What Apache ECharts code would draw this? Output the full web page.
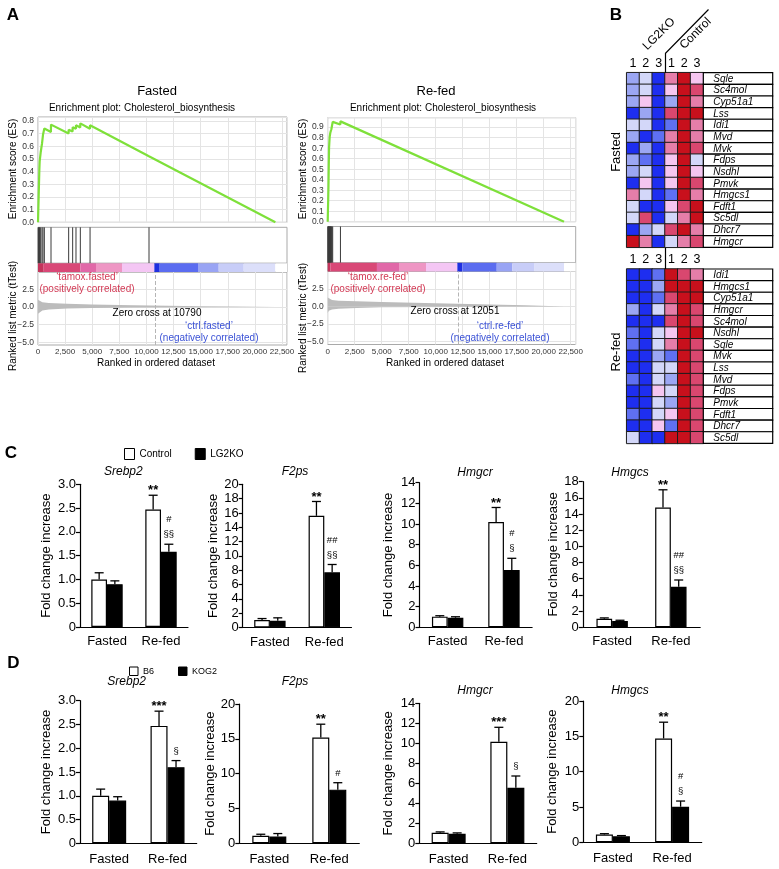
<!DOCTYPE html>
<html><head><meta charset="utf-8">
<script src="https://cdn.jsdelivr.net/npm/echarts@6/dist/echarts.min.js"></script>
<style>html,body{margin:0;padding:0;background:#fff}#c{width:779px;height:869px}</style>
</head><body><div id="c"></div>
<script>
// ================= DATA =================
// ---- Panel A (GSEA) ----
const nGenes = 22961;
const rankTickStep = 2500;
const metricTicks = [-5, -2.5, 0, 2.5];
const gseaSubtitle = 'Enrichment plot: Cholesterol_biosynthesis';

const fastedTitle = 'Fasted';
const fastedES = [[0,0],[20,0.07],[60,0.2],[123,0.41],[154,0.48],[246,0.55],[369,0.62],[461,0.69],[584,0.74],[1190,0.712],[1199,0.77],[2820,0.70],[2828,0.73],[3190,0.715],[3197,0.75],[3495,0.737],[3504,0.765],[3895,0.748],[3904,0.78],[4790,0.738],[4800,0.765],[10230,0.52],[10236,0.535],[21890,0]];
const fastedHits = [20,60,123,154,246,369,461,584,1199,2828,3197,3504,3904,4800,10236];
const fastedBarEdges = [0,523,3904,5349,7746,10728,11220,14755,16661,18967,21887,22961];
const fastedBarLevels = [5,4,3,2,1,-5,-4,-3,-2,-1,0];
const fastedMetricPos = [[0,1.05],[100,0.85],[400,0.7],[1000,0.6],[2700,0.47],[5000,0.38],[8800,0.28],[12000,0.18],[15000,0.12],[18000,0.08],[21900,0.04]];
const fastedMetricNeg = [[0,-0.95],[100,-0.7],[400,-0.5],[1000,-0.35],[2700,-0.2],[5000,-0.12],[8800,-0.05],[15000,-0.03],[21900,-0.03]];
const fastedZeroCross = 10790;
const fastedPosLabel = ['\u2018tamox.fasted\u2019', '(positively correlated)'];
const fastedNegLabel = ['\u2018ctrl.fasted\u2019', '(negatively correlated)'];

const refedTitle = 'Re-fed';
const refedES = [[0,0],[20,0.1],[45,0.2],[70,0.33],[93,0.49],[124,0.7],[155,0.76],[185,0.81],[216,0.83],[250,0.85],[280,0.86],[309,0.86],[340,0.88],[401,0.89],[463,0.95],[1170,0.925],[1180,0.955],[21880,0]];
const refedHits = [20,45,70,93,124,155,185,216,250,280,309,340,401,463,1180];
const refedBarEdges = [0,250,4560,6602,9103,12004,12467,15650,17099,19106,21884,22961];
const refedBarLevels = [5,4,3,2,1,-5,-4,-3,-2,-1,0];
const refedMetricPos = [[0,1.3],[100,1.1],[400,0.95],[1000,0.85],[2700,0.75],[5000,0.65],[8000,0.55],[12051,0.4],[15000,0.3],[18290,0.2],[18400,0.05],[21900,0.03]];
const refedMetricNeg = [[0,-0.9],[100,-0.6],[400,-0.4],[1000,-0.3],[2700,-0.2],[5000,-0.1],[12051,-0.05],[21900,-0.03]];
const refedZeroCross = 12051;
const refedPosLabel = ['\u2018tamox.re-fed\u2019', '(positively correlated)'];
const refedNegLabel = ['\u2018ctrl.re-fed\u2019', '(negatively correlated)'];

// ---- Panel B (heatmaps) ----
const sampleIds = ['LG2KO-1','LG2KO-2','LG2KO-3','Control-1','Control-2','Control-3'];
const fastedGenes = ['Sqle','Sc4mol','Cyp51a1','Lss','Idi1','Mvd','Mvk','Fdps','Nsdhl','Pmvk','Hmgcs1','Fdft1','Sc5dl','Dhcr7','Hmgcr'];
const fastedExpr = [
  [-2,-1,-4, 2, 4, 1],
  [-2,-1,-4, 1, 4, 3],
  [-2, 1,-4,-2, 4, 2],
  [-4,-2,-4, 3, 4, 4],
  [-1,-1,-4,-3, 4, 2],
  [-2,-4,-3, 2, 4, 2],
  [-4,-2,-4, 2, 4, 3],
  [-2,-3,-4, 1, 4,-1],
  [-2,-1,-4, 1, 4, 1],
  [-4, 1,-4, 1, 4, 3],
  [ 2,-1,-4,-3, 4, 2],
  [-1,-4,-4, 1, 3, 4],
  [-1, 3,-4,-1, 2, 4],
  [-4,-2,-1, 3, 4, 2],
  [ 4, 2,-4,-1, 2, 3]
];
const refedGenes = ['Idi1','Hmgcs1','Cyp51a1','Hmgcr','Sc4mol','Nsdhl','Sqle','Mvk','Lss','Mvd','Fdps','Pmvk','Fdft1','Dhcr7','Sc5dl'];
const refedExpr = [
  [-4,-4,-3, 4, 3, 2],
  [-4,-4,-2, 4, 4, 4],
  [-4,-4,-3, 3, 4, 4],
  [-2,-4,-1, 2, 4, 3],
  [-4,-4,-4, 3, 4, 3],
  [-3,-4,-1, 1, 4, 4],
  [-3,-4,-1, 2, 4, 3],
  [-4,-4,-2,-3, 4, 3],
  [-4,-4,-1,-1, 4, 3],
  [-3,-4,-1,-2, 4, 3],
  [-4,-4, 1,-1, 4, 3],
  [-4,-4,-1,-2, 4, 3],
  [-3,-4,-1, 1, 4, 3],
  [-4,-4, 1,-3, 4, 3],
  [-1,-4,-4, 4, 4, 3]
];

// ---- Panels C & D (bar charts) ----
const groups = ['Fasted', 'Re-fed'];
const cSeriesNames = ['Control', 'LG2KO'];
const dSeriesNames = ['B6', 'KOG2'];
const geneTitles = ['Srebp2', 'F2ps', 'Hmgcr', 'Hmgcs'];
const cAxisMax = [3, 20, 14, 18];
const cAxisStep = [0.5, 2, 2, 2];
const dAxisMax = [3, 20, 14, 20];
const dAxisStep = [0.5, 5, 2, 5];

const cSrebp2Ctrl = [1.0, 2.47], cSrebp2CtrlErr = [1.14, 2.77], cSrebp2KO = [0.90, 1.58], cSrebp2KOErr = [0.97, 1.74];
const cF2psCtrl = [1.05, 15.6], cF2psCtrlErr = [1.25, 17.6], cF2psKO = [0.95, 7.7], cF2psKOErr = [1.35, 8.8];
const cHmgcrCtrl = [1.03, 10.2], cHmgcrCtrlErr = [1.12, 11.6], cHmgcrKO = [0.93, 5.55], cHmgcrKOErr = [1.02, 6.68];
const cHmgcsCtrl = [1.05, 14.8], cHmgcsCtrlErr = [1.15, 17.0], cHmgcsKO = [0.78, 5.0], cHmgcsKOErr = [0.86, 5.84];
const cSrebp2Sig = ['', '**', '', '#\n\u00a7\u00a7'];
const cF2psSig = ['', '**', '', '##\n\u00a7\u00a7'];
const cHmgcrSig = ['', '**', '', '#\n\u00a7'];
const cHmgcsSig = ['', '**', '', '##\n\u00a7\u00a7'];

const dSrebp2B6 = [1.0, 2.47], dSrebp2B6Err = [1.14, 2.78], dSrebp2KO = [0.90, 1.60], dSrebp2KOErr = [0.98, 1.74];
const dF2psB6 = [1.09, 15.2], dF2psB6Err = [1.3, 17.1], dF2psKO = [0.98, 7.7], dF2psKOErr = [1.4, 8.7];
const dHmgcrB6 = [1.05, 10.16], dHmgcrB6Err = [1.14, 11.6], dHmgcrKO = [0.95, 5.56], dHmgcrKOErr = [1.04, 6.73];
const dHmgcsB6 = [1.1, 14.7], dHmgcsB6Err = [1.22, 17.0], dHmgcsKO = [0.85, 5.04], dHmgcsKOErr = [0.95, 5.84];
const dSrebp2Sig = ['', '***', '', '\u00a7'];
const dF2psSig = ['', '**', '', '#'];
const dHmgcrSig = ['', '***', '', '\u00a7'];
const dHmgcsSig = ['', '**', '', '#\n\u00a7'];

// ================= STYLE / BUILD =================
const FONT = '"Liberation Sans", Arial, Helvetica, sans-serif';
const rankBarPalette = {'5':'#c4345c','4':'#d94877','3':'#e168a8','2':'#ee96c4','1':'#f4c6f4','0':'#ffffff','-5':'#1f2fe0','-4':'#5b6cf0','-3':'#99a4f4','-2':'#c8cdf8','-1':'#dcdffa'};
const heatPalette = {'-4':'#1e2ef0','-3':'#5f70f2','-2':'#9ba6f3','-1':'#d3d7f9','1':'#f5c6f0','2':'#e57ea9','3':'#d9476f','4':'#c8101c'};

const grids = [], xAxes = [], yAxes = [], series = [], gfx = [];
function addGrid(g, xa, ya) {
  const i = grids.length;
  g.containLabel = false;
  grids.push(g); xa.gridIndex = i; ya.gridIndex = i; xAxes.push(xa); yAxes.push(ya);
  return i;
}
function txt(x, y, text, o) {
  o = o || {};
  return {type:'text', x:x, y:y, rotation:o.rot || 0, silent:true, z:100,
    style:{text:text, fill:o.color || '#000', fontSize:o.size || 10, fontFamily:FONT,
      fontStyle:o.italic ? 'italic' : 'normal', fontWeight:o.bold ? 'bold' : 'normal',
      align:o.align || 'center', verticalAlign:'middle'}};
}

function buildGsea(d, L) {
  const xBase = () => ({type:'value', min:0, max:nGenes, interval:rankTickStep, axisLine:{show:false}, axisTick:{show:false}, axisLabel:{show:false}, splitLine:{show:false}});
  const box = (top, h) => ({left:L.L, top:top, width:L.W, height:h, show:true, borderColor:'#a9a9a9', borderWidth:1});
  const gl = {show:true, lineStyle:{color:'#e4e4e4', width:1}};
  // ES panel
  let g = addGrid(box(L.esTop, L.esH), Object.assign(xBase(), {splitLine:gl}),
    {type:'value', min:0, max:L.esMax, interval:0.1, axisLine:{show:false}, axisTick:{show:false}, splitLine:gl,
     axisLabel:{fontSize:8.5, color:'#333', margin:4, fontFamily:FONT, showMaxLabel:false, formatter:v => v.toFixed(1)}});
  series.push({type:'line', xAxisIndex:g, yAxisIndex:g, data:d.es, symbol:'none', silent:true, z:3,
    lineStyle:{color:'#7ee03a', width:2.2}});
  // hits panel
  g = addGrid(box(L.hitTop, L.hitH), xBase(), {type:'value', min:0, max:1, show:false});
  series.push({type:'custom', xAxisIndex:g, yAxisIndex:g, silent:true, data:d.hits.map(h => [h, 0]),
    renderItem:(p, api) => {
      const a = api.coord([api.value(0), 0]), b = api.coord([api.value(0), 1]);
      return {type:'line', shape:{x1:a[0], y1:a[1], x2:b[0], y2:b[1]}, style:{stroke:'#3a3a3a', lineWidth:1}};
    }});
  // colour bar
  g = addGrid(box(L.barTop, L.barH), xBase(), {type:'value', min:0, max:1, show:false});
  const segs = d.levels.map((lv, i) => [d.edges[i], d.edges[i + 1], lv]);
  series.push({type:'custom', xAxisIndex:g, yAxisIndex:g, silent:true, data:segs, encode:{x:[0, 1]},
    renderItem:(p, api) => {
      const a = api.coord([api.value(0), 1]), b = api.coord([api.value(1), 0]);
      return {type:'rect', shape:{x:a[0], y:a[1], width:b[0] - a[0], height:b[1] - a[1]},
        style:{fill:rankBarPalette[String(api.value(2))]}};
    }});
  // ranked list metric
  g = addGrid(box(L.rkTop, L.rkH),
    Object.assign(xBase(), {splitLine:gl, axisLabel:{show:true, fontSize:8, color:'#333', margin:3, fontFamily:FONT, showMaxLabel:false,
      formatter:v => Math.round(v).toLocaleString('en-US')}}),
    {type:'value', min:-5.4, max:5.0, axisLine:{show:false}, axisTick:{show:false, customValues:metricTicks}, splitLine:gl,
     axisLabel:{customValues:metricTicks, fontSize:8.5, color:'#333', margin:4, fontFamily:FONT,
       formatter:v => (v < 0 ? '\u2212' : '') + Math.abs(v).toFixed(1)}});
  series.push({type:'line', xAxisIndex:g, yAxisIndex:g, data:d.pos, symbol:'none', silent:true,
    lineStyle:{width:0}, areaStyle:{color:'#bcbcbc', opacity:1},
    markLine:{silent:true, symbol:'none', label:{show:false}, data:[{xAxis:d.zero}],
      lineStyle:{type:'dashed', color:'#b5b5b5', width:1}}});
  series.push({type:'line', xAxisIndex:g, yAxisIndex:g, data:d.neg, symbol:'none', silent:true,
    lineStyle:{width:0}, areaStyle:{color:'#bcbcbc', opacity:1}});
  // texts
  gfx.push(txt(L.titleX, L.titleY, d.title, {size:13}));
  gfx.push(txt(L.subX, L.subY, gseaSubtitle, {size:10}));
  gfx.push(txt(L.yNameX, L.esNameY, 'Enrichment score (ES)', {size:10, rot:Math.PI / 2}));
  gfx.push(txt(L.yNameX, L.rkNameY, 'Ranked list metric (tTest)', {size:10, rot:Math.PI / 2}));
  gfx.push(txt(L.posX, L.posY1, d.posLabel[0], {size:10, color:'#d23a55'}));
  gfx.push(txt(L.posX, L.posY2, d.posLabel[1], {size:10, color:'#d23a55'}));
  gfx.push(txt(L.zcX, L.zcY, 'Zero cross at ' + d.zero, {size:10}));
  gfx.push(txt(L.negX, L.negY1, d.negLabel[0], {size:10, color:'#3b52d6'}));
  gfx.push(txt(L.negX, L.negY2, d.negLabel[1], {size:10, color:'#3b52d6'}));
  gfx.push(txt(L.xNameX, L.xNameY, 'Ranked in ordered dataset', {size:10}));
}

buildGsea({title:fastedTitle, es:fastedES, hits:fastedHits, edges:fastedBarEdges, levels:fastedBarLevels,
  pos:fastedMetricPos, neg:fastedMetricNeg, zero:fastedZeroCross, posLabel:fastedPosLabel, negLabel:fastedNegLabel},
  {L:38, W:249, esTop:117, esH:105.3, esMax:0.83, hitTop:227.3, hitH:36, barTop:263.3, barH:8.7, rkTop:272, rkH:73,
   titleX:157, titleY:91, subX:142, subY:108, yNameX:13, esNameY:169, rkNameY:316,
   posX:87, posY1:277, posY2:289, zcX:157, zcY:313, negX:209, negY1:326, negY2:338, xNameX:156, xNameY:363});
buildGsea({title:refedTitle, es:refedES, hits:refedHits, edges:refedBarEdges, levels:refedBarLevels,
  pos:refedMetricPos, neg:refedMetricNeg, zero:refedZeroCross, posLabel:refedPosLabel, negLabel:refedNegLabel},
  {L:327.7, W:248, esTop:117.7, esH:104, esMax:0.99, hitTop:226.5, hitH:36.3, barTop:262.8, barH:8.7, rkTop:271.5, rkH:73,
   titleX:436, titleY:91, subX:443, subY:108, yNameX:303, esNameY:169, rkNameY:318,
   posX:378, posY1:277, posY2:289, zcX:455, zcY:311, negX:500, negY1:326, negY2:338, xNameX:445, xNameY:363});
gfx.push(txt(13, 15, 'A', {size:17, bold:true}));

// ---- Panel B ----
const heatSeries = [];
function buildHeat(genes, expr, top, h) {
  const left = 626.7, w = 76.6, nameW = 69.4;
  let g = addGrid({left:left, top:top, width:w, height:h},
    {type:'category', data:sampleIds, position:'top', axisLine:{show:false}, axisTick:{show:false}, splitLine:{show:false},
     axisLabel:{formatter:s => s.split('-')[1], fontSize:12.5, color:'#000', margin:3, fontFamily:FONT}},
    {type:'category', data:genes, inverse:true, show:false});
  heatSeries.push(series.length);
  series.push({type:'heatmap', xAxisIndex:g, yAxisIndex:g, silent:true,
    data:expr.flatMap((row, r) => row.map((v, c) => [c, r, v])),
    itemStyle:{borderColor:'#1c1c1c', borderWidth:1}});
  g = addGrid({left:left + w, top:top, width:nameW, height:h},
    {type:'category', data:['gene'], show:false}, {type:'category', data:genes, inverse:true, show:false});
  series.push({type:'custom', xAxisIndex:g, yAxisIndex:g, silent:true, data:genes.map((n, i) => [0, i]),
    renderItem:(p, api) => {
      const c = api.coord([0, api.value(1)]), s = api.size([1, 1]);
      return {type:'group', children:[
        {type:'rect', shape:{x:c[0] - s[0] / 2, y:c[1] - s[1] / 2, width:s[0], height:s[1]}, style:{fill:'#fff', stroke:'#000', lineWidth:1.2}},
        {type:'text', x:c[0] - s[0] / 2 + 10, y:c[1] + 0.5, style:{text:genes[p.dataIndex], fill:'#000', fontSize:10, fontStyle:'italic', fontFamily:FONT, align:'left', verticalAlign:'middle'}}
      ]};
    }});
}
buildHeat(fastedGenes, fastedExpr, 72.7, 174.6);
buildHeat(refedGenes, refedExpr, 269, 174.4);
gfx.push(txt(616, 15, 'B', {size:17, bold:true}));
gfx.push({type:'polyline', silent:true, z:100, shape:{points:[[665.5, 72.7], [665.5, 53.3], [708.5, 9.5]]}, style:{stroke:'#000', lineWidth:1.2, fill:null}});
gfx.push({type:'polyline', silent:true, z:100, shape:{points:[[665.5, 248], [665.5, 269]]}, style:{stroke:'#000', lineWidth:1.2, fill:null}});
gfx.push(txt(659, 34, 'LG2KO', {size:12, rot:Math.PI / 4}));
gfx.push(txt(695.5, 33.5, 'Control', {size:12, rot:Math.PI / 4}));
gfx.push(txt(616, 152, fastedTitle, {size:13, rot:Math.PI / 2}));
gfx.push(txt(616, 352, refedTitle, {size:13, rot:Math.PI / 2}));

// ---- Panels C & D ----
function buildBars(s) {
  const g = addGrid({left:s.left, top:s.top, width:s.width, height:s.height},
    {type:'category', data:groups, axisLine:{lineStyle:{color:'#000', width:1.2}},
     axisTick:{length:4, lineStyle:{color:'#000', width:1.2}},
     axisLabel:{fontSize:13, color:'#000', margin:s.xMargin, fontFamily:FONT}},
    {type:'value', min:0, max:s.max, interval:s.step, splitLine:{show:false},
     axisLine:{show:true, lineStyle:{color:'#000', width:1.2}},
     axisTick:{show:true, length:4, lineStyle:{color:'#000', width:1.2}},
     axisLabel:{fontSize:13, color:'#000', margin:4, fontFamily:FONT,
       formatter:v => v === 0 ? '0' : (s.step < 1 ? v.toFixed(1) : String(Math.round(v)))},
     name:'Fold change increase', nameLocation:'middle', nameGap:s.nameGap,
     nameTextStyle:{fontSize:13, color:'#000', fontFamily:FONT}});
  series.push({type:'bar', name:s.names[0], xAxisIndex:g, yAxisIndex:g, data:s.v1, barWidth:s.barW, barGap:'0%', silent:true,
    itemStyle:{color:'#fff', borderColor:'#000', borderWidth:1.2}});
  series.push({type:'bar', name:s.names[1], xAxisIndex:g, yAxisIndex:g, data:s.v2, barWidth:s.barW, barGap:'0%', silent:true,
    itemStyle:{color:'#000', borderColor:'#000', borderWidth:1.2}});
  const errData = [];
  s.v1.forEach((v, i) => errData.push([i, -1, v, s.e1[i]]));
  s.v2.forEach((v, i) => errData.push([i, 1, v, s.e2[i]]));
  const bw = s.barW;
  series.push({type:'custom', xAxisIndex:g, yAxisIndex:g, z:5, silent:true, data:errData, encode:{x:0, y:3},
    renderItem:(p, api) => {
      const c = api.coord([api.value(0), api.value(2)]), t = api.coord([api.value(0), api.value(3)]);
      const x = c[0] + api.value(1) * bw / 2;
      const kids = [
        {type:'line', shape:{x1:x, y1:c[1], x2:x, y2:t[1]}, style:{stroke:'#000', lineWidth:1.3}},
        {type:'line', shape:{x1:x - 4.5, y1:t[1], x2:x + 4.5, y2:t[1]}, style:{stroke:'#000', lineWidth:1.3}}
      ];
      const a = s.sig[p.dataIndex];
      if (a) {
        const star = a.indexOf('*') >= 0;
        kids.push({type:'text', x:x, y:star ? t[1] + 3 : t[1] - 2,
          style:{text:a, fill:'#000', fontSize:star ? 13 : 9.5, fontWeight:star ? 'bold' : 'normal', fontFamily:FONT,
            lineHeight:15, align:'center', verticalAlign:'bottom'}});
      }
      return {type:'group', children:kids};
    }});
}
const cData = [
  [cSrebp2Ctrl, cSrebp2CtrlErr, cSrebp2KO, cSrebp2KOErr, cSrebp2Sig],
  [cF2psCtrl, cF2psCtrlErr, cF2psKO, cF2psKOErr, cF2psSig],
  [cHmgcrCtrl, cHmgcrCtrlErr, cHmgcrKO, cHmgcrKOErr, cHmgcrSig],
  [cHmgcsCtrl, cHmgcsCtrlErr, cHmgcsKO, cHmgcsKOErr, cHmgcsSig]
];
const dData = [
  [dSrebp2B6, dSrebp2B6Err, dSrebp2KO, dSrebp2KOErr, dSrebp2Sig],
  [dF2psB6, dF2psB6Err, dF2psKO, dF2psKOErr, dF2psSig],
  [dHmgcrB6, dHmgcrB6Err, dHmgcrKO, dHmgcrKOErr, dHmgcrSig],
  [dHmgcsB6, dHmgcsB6Err, dHmgcsKO, dHmgcsKOErr, dHmgcsSig]
];
const cLayout = [
  {left:80, top:484.3, width:108, height:142.7, nameGap:27, tx:123.3, ty:471.7},
  {left:242.7, top:484.3, width:108.8, height:143.2, nameGap:19.5, tx:295, ty:471.7},
  {left:419.5, top:482.7, width:112.6, height:144.6, nameGap:24.5, tx:475, ty:472.7},
  {left:582.8, top:481.7, width:117.4, height:145.5, nameGap:23, tx:630, ty:472.7}
];
const dLayout = [
  {left:80, top:700.7, width:116.7, height:142.6, nameGap:27, tx:126.7, ty:681.7},
  {left:239.3, top:704, width:120, height:139.3, nameGap:16, tx:295, ty:681.7},
  {left:419.3, top:703.3, width:117.4, height:140, nameGap:24.5, tx:475, ty:691},
  {left:583.3, top:701, width:118.4, height:141.3, nameGap:24, tx:630, ty:691}
];
cData.forEach((d, i) => {
  const l = cLayout[i];
  buildBars({left:l.left, top:l.top, width:l.width, height:l.height, nameGap:l.nameGap, xMargin:8,
    max:cAxisMax[i], step:cAxisStep[i], names:cSeriesNames, v1:d[0], e1:d[1], v2:d[2], e2:d[3], sig:d[4], barW:15.7});
  gfx.push(txt(l.tx, l.ty, geneTitles[i], {size:12, italic:true}));
});
dData.forEach((d, i) => {
  const l = dLayout[i];
  buildBars({left:l.left, top:l.top, width:l.width, height:l.height, nameGap:l.nameGap, xMargin:10,
    max:dAxisMax[i], step:dAxisStep[i], names:dSeriesNames, v1:d[0], e1:d[1], v2:d[2], e2:d[3], sig:d[4], barW:17});
  gfx.push(txt(l.tx, l.ty, geneTitles[i], {size:12, italic:true}));
});
gfx.push(txt(11, 453.5, 'C', {size:17, bold:true}));
gfx.push(txt(13.5, 663.5, 'D', {size:17, bold:true}));

const chart = echarts.init(document.getElementById('c'));
chart.setOption({
  animation:false,
  backgroundColor:'#fff',
  grid:grids, xAxis:xAxes, yAxis:yAxes, series:series,
  visualMap:{type:'piecewise', show:false, seriesIndex:heatSeries, dimension:2,
    pieces:Object.keys(heatPalette).map(k => ({value:Number(k), color:heatPalette[k]}))},
  legend:[
    {data:cSeriesNames, left:124, top:448, padding:0, itemWidth:10, itemHeight:11, itemGap:23, icon:'rect', selectedMode:false,
     itemStyle:{borderWidth:1}, textStyle:{fontSize:10, color:'#000', fontFamily:FONT}},
    {data:dSeriesNames, left:129, top:666.5, padding:0, itemWidth:8.5, itemHeight:8.5, itemGap:24, icon:'rect', selectedMode:false,
     itemStyle:{borderWidth:1}, textStyle:{fontSize:9, color:'#000', fontFamily:FONT}}
  ],
  graphic:{elements:gfx}
});
</script></body></html>
